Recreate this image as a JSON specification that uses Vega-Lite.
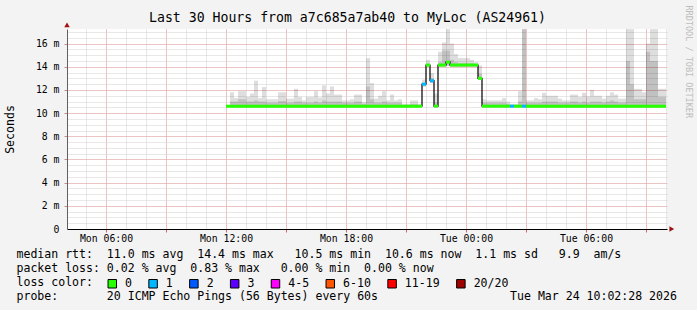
{
  "$schema": "https://vega.github.io/schema/vega-lite/v6.json",
  "width": 600,
  "height": 200,
  "autosize": {"type": "none"},
  "padding": {"left": 67, "top": 29, "right": 30, "bottom": 81},
  "background": "#f3f3f3",
  "config": {
    "view": {"fill": "white", "stroke": null},
    "font": "DejaVu Sans Mono",
    "axis": {"labelFont": "DejaVu Sans Mono", "titleFont": "DejaVu Sans Mono", "labelFontSize": 9.8, "labelColor": "#000", "titleColor": "#000", "titleFontWeight": "normal"}
  },
  "title": {"text": "Last 30 Hours from a7c685a7ab40 to MyLoc (AS24961)", "font": "DejaVu Sans Mono", "fontSize": 13.2, "fontWeight": "normal", "color": "#000", "anchor": "middle", "frame": "group", "dx": -19.5, "dy": 24.5, "offset": 4},
  "datasets": {
    "smoke": [
      {"t": 12.2, "t2": 12.4, "lo": 10.5, "hi": 11.8, "mid": 11.0},
      {"t": 12.4, "t2": 12.6, "lo": 10.5, "hi": 11.3, "mid": 11.0},
      {"t": 12.6, "t2": 13.0, "lo": 10.5, "hi": 11.9, "mid": 11.2},
      {"t": 13.0, "t2": 13.2, "lo": 10.5, "hi": 11.4, "mid": 11.0},
      {"t": 13.2, "t2": 13.4, "lo": 10.5, "hi": 11.7, "mid": 11.0},
      {"t": 13.4, "t2": 13.6, "lo": 10.5, "hi": 12.8, "mid": 11.1},
      {"t": 13.6, "t2": 13.8, "lo": 10.5, "hi": 11.3, "mid": 11.0},
      {"t": 13.8, "t2": 14.0, "lo": 10.5, "hi": 12.25, "mid": 11.0},
      {"t": 14.0, "t2": 14.6, "lo": 10.5, "hi": 11.2, "mid": 10.9},
      {"t": 14.6, "t2": 15.0, "lo": 10.5, "hi": 11.8, "mid": 11.05},
      {"t": 15.0, "t2": 15.4, "lo": 10.5, "hi": 11.25, "mid": 10.9},
      {"t": 15.4, "t2": 15.6, "lo": 10.5, "hi": 12.1, "mid": 11.0},
      {"t": 15.6, "t2": 15.8, "lo": 10.5, "hi": 11.4, "mid": 11.0},
      {"t": 15.8, "t2": 16.0, "lo": 10.5, "hi": 11.1, "mid": 10.9},
      {"t": 16.0, "t2": 16.4, "lo": 10.5, "hi": 11.4, "mid": 10.9},
      {"t": 16.4, "t2": 16.6, "lo": 10.5, "hi": 11.9, "mid": 11.0},
      {"t": 16.6, "t2": 16.8, "lo": 10.5, "hi": 11.35, "mid": 10.9},
      {"t": 16.8, "t2": 17.0, "lo": 10.5, "hi": 12.4, "mid": 11.1},
      {"t": 17.0, "t2": 17.2, "lo": 10.5, "hi": 11.7, "mid": 11.0},
      {"t": 17.2, "t2": 17.4, "lo": 10.5, "hi": 12.3, "mid": 11.0},
      {"t": 17.4, "t2": 17.8, "lo": 10.5, "hi": 11.6, "mid": 11.0},
      {"t": 17.8, "t2": 18.2, "lo": 10.5, "hi": 11.1, "mid": 10.9},
      {"t": 18.2, "t2": 18.4, "lo": 10.5, "hi": 11.2, "mid": 10.9},
      {"t": 18.4, "t2": 18.8, "lo": 10.5, "hi": 11.6, "mid": 11.0},
      {"t": 18.8, "t2": 19.0, "lo": 10.5, "hi": 10.95, "mid": 10.8},
      {"t": 19.0, "t2": 19.2, "lo": 10.5, "hi": 14.75, "mid": 12.3},
      {"t": 19.2, "t2": 19.4, "lo": 10.5, "hi": 12.6, "mid": 11.2},
      {"t": 19.4, "t2": 19.6, "lo": 10.5, "hi": 11.25, "mid": 10.9},
      {"t": 19.6, "t2": 19.8, "lo": 10.5, "hi": 11.5, "mid": 10.9},
      {"t": 19.8, "t2": 20.0, "lo": 10.5, "hi": 11.9, "mid": 11.0},
      {"t": 20.0, "t2": 20.2, "lo": 10.5, "hi": 11.1, "mid": 10.9},
      {"t": 20.2, "t2": 20.4, "lo": 10.5, "hi": 11.6, "mid": 10.9},
      {"t": 20.4, "t2": 20.6, "lo": 10.5, "hi": 11.1, "mid": 10.9},
      {"t": 20.6, "t2": 20.8, "lo": 10.5, "hi": 11.2, "mid": 10.9},
      {"t": 20.8, "t2": 21.2, "lo": 10.5, "hi": 10.8, "mid": 10.7},
      {"t": 21.2, "t2": 21.6, "lo": 10.5, "hi": 11.1, "mid": 10.8},
      {"t": 21.6, "t2": 21.8, "lo": 10.5, "hi": 10.8, "mid": 10.7},
      {"t": 21.8, "t2": 22.0, "lo": 12.3, "hi": 12.9, "mid": 12.6},
      {"t": 22.0, "t2": 22.2, "lo": 14.0, "hi": 14.6, "mid": 14.2},
      {"t": 22.2, "t2": 22.4, "lo": 12.6, "hi": 13.45, "mid": 13.0},
      {"t": 22.4, "t2": 22.6, "lo": 10.5, "hi": 11.7, "mid": 10.9},
      {"t": 22.6, "t2": 22.8, "lo": 14.0, "hi": 15.3, "mid": 14.4},
      {"t": 22.8, "t2": 23.0, "lo": 14.0, "hi": 16.1, "mid": 15.4},
      {"t": 23.0, "t2": 23.2, "lo": 14.1, "hi": 17.25, "mid": 15.4},
      {"t": 23.2, "t2": 23.4, "lo": 14.0, "hi": 16.0, "mid": 14.6},
      {"t": 23.4, "t2": 23.6, "lo": 14.0, "hi": 15.1, "mid": 14.4},
      {"t": 23.6, "t2": 24.2, "lo": 14.0, "hi": 14.75, "mid": 14.3},
      {"t": 24.2, "t2": 24.4, "lo": 14.0, "hi": 14.6, "mid": 14.3},
      {"t": 24.4, "t2": 24.6, "lo": 14.0, "hi": 14.4, "mid": 14.2},
      {"t": 24.6, "t2": 24.8, "lo": 12.9, "hi": 14.1, "mid": 13.4},
      {"t": 24.8, "t2": 25.0, "lo": 10.5, "hi": 11.2, "mid": 10.9},
      {"t": 25.0, "t2": 25.8, "lo": 10.5, "hi": 11.1, "mid": 10.9},
      {"t": 25.8, "t2": 26.0, "lo": 10.5, "hi": 11.3, "mid": 10.9},
      {"t": 26.0, "t2": 26.2, "lo": 10.5, "hi": 11.0, "mid": 10.8},
      {"t": 26.2, "t2": 26.6, "lo": 10.5, "hi": 10.8, "mid": 10.7},
      {"t": 26.6, "t2": 26.8, "lo": 10.5, "hi": 11.9, "mid": 11.0},
      {"t": 26.8, "t2": 27.0, "lo": 10.5, "hi": 17.25, "mid": 17.25},
      {"t": 27.0, "t2": 27.4, "lo": 10.5, "hi": 11.1, "mid": 10.9},
      {"t": 27.4, "t2": 27.6, "lo": 10.5, "hi": 11.3, "mid": 10.9},
      {"t": 27.6, "t2": 27.8, "lo": 10.5, "hi": 11.2, "mid": 10.9},
      {"t": 27.8, "t2": 28.0, "lo": 10.5, "hi": 11.75, "mid": 11.0},
      {"t": 28.0, "t2": 28.6, "lo": 10.5, "hi": 11.5, "mid": 11.0},
      {"t": 28.6, "t2": 28.8, "lo": 10.5, "hi": 11.25, "mid": 10.9},
      {"t": 28.8, "t2": 29.2, "lo": 10.5, "hi": 11.1, "mid": 10.9},
      {"t": 29.2, "t2": 29.6, "lo": 10.5, "hi": 11.6, "mid": 11.0},
      {"t": 29.6, "t2": 29.8, "lo": 10.5, "hi": 11.4, "mid": 10.9},
      {"t": 29.8, "t2": 30.0, "lo": 10.5, "hi": 11.75, "mid": 11.0},
      {"t": 30.0, "t2": 30.2, "lo": 10.5, "hi": 11.45, "mid": 10.9},
      {"t": 30.2, "t2": 30.4, "lo": 10.5, "hi": 12.0, "mid": 11.0},
      {"t": 30.4, "t2": 30.8, "lo": 10.5, "hi": 11.5, "mid": 11.0},
      {"t": 30.8, "t2": 31.0, "lo": 10.5, "hi": 11.25, "mid": 10.9},
      {"t": 31.0, "t2": 31.2, "lo": 10.5, "hi": 11.5, "mid": 11.0},
      {"t": 31.2, "t2": 31.4, "lo": 10.5, "hi": 11.8, "mid": 11.1},
      {"t": 31.4, "t2": 31.6, "lo": 10.5, "hi": 11.6, "mid": 11.0},
      {"t": 31.6, "t2": 32.0, "lo": 10.5, "hi": 11.25, "mid": 10.9},
      {"t": 32.0, "t2": 32.2, "lo": 10.5, "hi": 17.25, "mid": 14.5},
      {"t": 32.2, "t2": 32.4, "lo": 10.5, "hi": 17.25, "mid": 12.5},
      {"t": 32.4, "t2": 32.8, "lo": 10.5, "hi": 12.1, "mid": 11.2},
      {"t": 32.8, "t2": 33.0, "lo": 10.5, "hi": 11.8, "mid": 11.2},
      {"t": 33.0, "t2": 33.2, "lo": 10.5, "hi": 16.0, "mid": 15.3},
      {"t": 33.2, "t2": 33.6, "lo": 10.5, "hi": 17.25, "mid": 14.5},
      {"t": 33.6, "t2": 34.0, "lo": 10.5, "hi": 12.1, "mid": 11.4}
    ],
    "median": [
      {"t": 12.0, "t2": 21.8, "med": 10.6, "loss": "0"},
      {"t": 21.8, "t2": 22.0, "med": 12.5, "loss": "1"},
      {"t": 22.0, "t2": 22.2, "med": 14.15, "loss": "0"},
      {"t": 22.2, "t2": 22.4, "med": 12.8, "loss": "1"},
      {"t": 22.4, "t2": 22.6, "med": 10.6, "loss": "0"},
      {"t": 22.6, "t2": 23.0, "med": 14.15, "loss": "0"},
      {"t": 23.0, "t2": 23.2, "med": 14.4, "loss": "0"},
      {"t": 23.2, "t2": 24.6, "med": 14.15, "loss": "0"},
      {"t": 24.6, "t2": 24.8, "med": 13.0, "loss": "0"},
      {"t": 24.8, "t2": 26.2, "med": 10.6, "loss": "0"},
      {"t": 26.2, "t2": 26.4, "med": 10.6, "loss": "1"},
      {"t": 26.4, "t2": 26.8, "med": 10.6, "loss": "0"},
      {"t": 26.8, "t2": 27.0, "med": 10.6, "loss": "1"},
      {"t": 27.0, "t2": 34.0, "med": 10.6, "loss": "0"}
    ]
  },
  "layer": [
    {
      "data": {"name": "smoke"},
      "mark": {"type": "rect", "fill": "#000", "fillOpacity": 0.13, "strokeWidth": 0},
      "encoding": {
        "x": {"field": "t", "type": "quantitative",
          "scale": {"domain": [4.05, 34.05], "nice": false, "zero": false},
          "axis": {"orient": "bottom", "grid": true, "gridColor": "#d0d0d0", "gridDash": [1, 1], "gridWidth": 1,
            "values": [5, 6, 7, 8, 9, 10, 11, 12, 13, 14, 15, 16, 17, 18, 19, 20, 21, 22, 23, 24, 25, 26, 27, 28, 29, 30, 31, 32, 33, 34],
            "labels": false, "ticks": false, "domain": false, "title": null, "zindex": 0}},
        "x2": {"field": "t2"},
        "y": {"field": "lo", "type": "quantitative",
          "scale": {"domain": [0, 17.26], "nice": false, "zero": false},
          "axis": {"orient": "right", "grid": true, "gridColor": "#d0d0d0", "gridDash": [1, 1], "gridWidth": 1,
            "values": [0.5, 1, 1.5, 2, 2.5, 3, 3.5, 4, 4.5, 5, 5.5, 6, 6.5, 7, 7.5, 8, 8.5, 9, 9.5, 10, 10.5, 11, 11.5, 12, 12.5, 13, 13.5, 14, 14.5, 15, 15.5, 16, 16.5, 17],
            "labels": false, "ticks": false, "domain": false, "zindex": 0,
            "title": "RRDTOOL / TOBI OETIKER", "titleFontSize": 8.5, "titleColor": "#bdbdbd", "titleAngle": 90, "titleX": 21, "titleY": -24, "titleAlign": "left", "titleBaseline": "middle"}},
        "y2": {"field": "hi"}
      }
    },
    {
      "data": {"name": "smoke"},
      "mark": {"type": "rect", "fill": "#000", "fillOpacity": 0.13, "strokeWidth": 0},
      "encoding": {
        "x": {"field": "t", "type": "quantitative", "axis": null},
        "x2": {"field": "t2"},
        "y": {"field": "lo", "type": "quantitative", "axis": null},
        "y2": {"field": "mid"}
      }
    },
    {
      "data": {"name": "median"},
      "mark": {"type": "line", "interpolate": "step-after", "color": "#000", "strokeWidth": 1.2},
      "encoding": {
        "x": {"field": "t", "type": "quantitative",
          "axis": {"orient": "bottom", "grid": true, "gridColor": "#eea0a0", "gridDash": [1, 1], "gridWidth": 1, "values": [6, 9, 12, 15, 18, 21, 24, 27, 30, 33], "labels": false, "ticks": true, "tickSize": 3, "tickColor": "#e06060", "domain": false, "title": null, "zindex": 0}},
        "y": {"field": "med", "type": "quantitative",
          "axis": {"orient": "left", "grid": true, "gridColor": "#eea0a0", "gridDash": [1, 1], "gridWidth": 1, "values": [2, 4, 6, 8, 10, 12, 14, 16], "labels": false, "ticks": true, "tickSize": 3, "tickColor": "#c09090", "domain": false, "title": null, "zindex": 0}}
      }
    },
    {
      "data": {"name": "median"},
      "mark": {"type": "rect", "yOffset": -1.5, "y2Offset": 1.5, "strokeWidth": 0},
      "encoding": {
        "x": {"field": "t", "type": "quantitative",
          "axis": {"orient": "bottom", "grid": false, "values": [6, 12, 18, 24, 30],
            "labelExpr": "(datum.value < 24 ? 'Mon ' : 'Tue ') + (datum.value % 24 < 10 ? '0' : '') + (datum.value % 24) + ':00'",
            "labelPadding": 4, "labelOverlap": false, "labelFlush": false, "ticks": false, "domain": true, "domainColor": "#000", "domainWidth": 1, "zindex": 1,
            "title": ["median rtt:\u00a0\u00a011.0 ms avg\u00a0\u00a014.4 ms max\u00a0\u00a0\u00a010.5 ms min\u00a0\u00a010.6 ms now\u00a0\u00a01.1 ms sd\u00a0\u00a0\u00a09.9\u00a0\u00a0am/s",
                      "packet loss: 0.02 % avg\u00a0\u00a00.83 % max\u00a0\u00a0\u00a00.00 % min\u00a0\u00a00.00 % now",
                      "loss color:",
                      "probe:\u00a0\u00a0\u00a0\u00a0\u00a0\u00a0\u00a020 ICMP Echo Pings (56 Bytes) every 60s\u00a0\u00a0\u00a0\u00a0\u00a0\u00a0\u00a0\u00a0\u00a0\u00a0\u00a0\u00a0\u00a0\u00a0\u00a0\u00a0\u00a0\u00a0\u00a0Tue Mar 24 10:02:28 2026"],
            "titleFontSize": 11.56, "titleLineHeight": 14, "titleX": -51, "titleY": 19.3, "titleAlign": "left", "titleAnchor": "start", "titleBaseline": "top"}},
        "x2": {"field": "t2"},
        "y": {"field": "med", "type": "quantitative",
          "axis": {"orient": "left", "grid": false, "values": [0, 2, 4, 6, 8, 10, 12, 14, 16], "labelExpr": "datum.value == 0 ? '0\u00a0\u00a0' : datum.value + ' m'", "labelPadding": 8, "ticks": false, "domain": true, "domainColor": "#606060", "domainWidth": 1, "zindex": 1,
            "title": "Seconds", "titleFontSize": 11.56, "titleAngle": 270, "titleX": -57, "titleY": 100, "titleAlign": "center", "titleBaseline": "middle"}},
        "y2": {"field": "med"},
        "color": {"field": "loss", "type": "nominal",
          "scale": {"domain": ["0", "1", "2", "3", "4-5", "6-10", "11-19", "20/20"], "range": ["#26ff00", "#00b8ff", "#0059ff", "#5e00ff", "#ff00ff", "#ff5500", "#ff0000", "#a10000"]},
          "legend": {"orient": "none", "legendX": 39.5, "legendY": 248.5, "direction": "horizontal", "title": null, "padding": 0,
            "symbolType": "square", "symbolSize": 72, "symbolStrokeWidth": 1, "symbolStrokeColor": "#000", "symbolOpacity": 1,
            "labelFont": "DejaVu Sans Mono", "labelFontSize": 11.56, "labelColor": "#000", "labelOffset": 7, "columnPadding": 13.8,
            "encode": {"symbols": {"update": {"stroke": {"value": "#000"}, "strokeWidth": {"value": 1}}}}}}
      }
    },
    {
      "data": {"values": [{}]},
      "mark": {"type": "point", "shape": "triangle-up", "filled": true, "size": 30, "color": "#a01010", "opacity": 1},
      "encoding": {
        "x": {"datum": 4.05, "type": "quantitative", "axis": null},
        "y": {"datum": 17.62, "type": "quantitative", "axis": null}
      }
    },
    {
      "data": {"values": [{}]},
      "mark": {"type": "point", "shape": "triangle-right", "filled": true, "size": 30, "color": "#a01010", "opacity": 1},
      "encoding": {
        "x": {"datum": 34.29, "type": "quantitative", "axis": null},
        "y": {"datum": 0, "type": "quantitative", "axis": null}
      }
    }
  ],
  "resolve": {"axis": {"x": "independent", "y": "independent"}}
}
